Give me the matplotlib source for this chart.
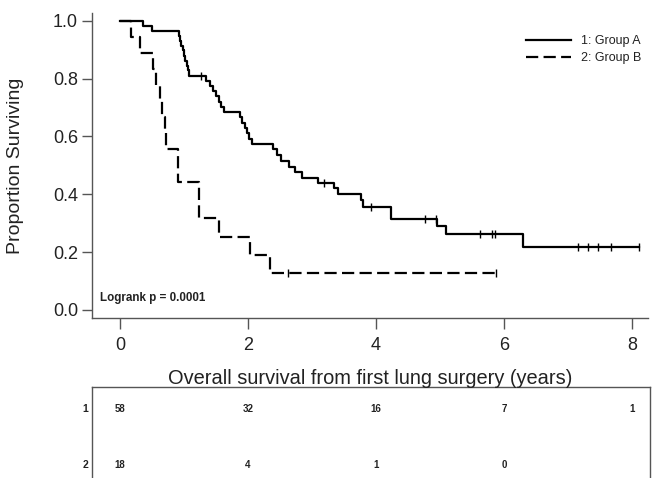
import numpy as np
import matplotlib.pyplot as plt
import matplotlib.transforms as mtransforms

plt.rcParams['font.family'] = ['Liberation Sans', 'DejaVu Sans']

# ---------------------------------------------------------------------------
# Kaplan-Meier curves (years, proportion surviving)
# ---------------------------------------------------------------------------
# Group A (solid)
a_event_t = [0.36, 0.50, 0.92, 0.94, 0.96, 0.98, 1.00, 1.02, 1.04, 1.06, 1.08,
             1.34, 1.40, 1.45, 1.50, 1.54, 1.58, 1.63, 1.87, 1.91, 1.95, 1.98,
             2.02, 2.06, 2.39, 2.45, 2.51, 2.64, 2.73, 2.84, 3.10, 3.34, 3.40,
             3.76, 3.80, 4.23, 4.96, 5.09, 6.29]
a_event_s = [0.983, 0.966, 0.948, 0.931, 0.914, 0.897, 0.879, 0.862, 0.845,
             0.828, 0.810, 0.792, 0.774, 0.756, 0.738, 0.720, 0.702, 0.684,
             0.666, 0.648, 0.629, 0.611, 0.592, 0.574, 0.555, 0.535, 0.514,
             0.494, 0.476, 0.457, 0.439, 0.420, 0.400, 0.379, 0.357, 0.316,
             0.289, 0.262, 0.218]
a_censor_t = [1.27, 3.19, 3.92, 4.77, 4.94, 5.63, 5.82, 5.86,
              7.16, 7.32, 7.47, 7.67, 8.11]
a_end = 8.11

# Group B (dashed)
b_event_t = [0.17, 0.31, 0.51, 0.56, 0.62, 0.65, 0.70, 0.72, 0.91,
             1.23, 1.54, 2.03, 2.34]
b_event_s = [0.944, 0.889, 0.833, 0.778, 0.722, 0.667, 0.611, 0.556, 0.444,
             0.318, 0.254, 0.190, 0.127]
b_censor_t = [2.63, 5.88]
b_end = 5.88

# numbers at risk
risk_t = [0, 2, 4, 6, 8]
risk_a = [58, 32, 16, 7, 1]
risk_b = [18, 4, 1, 0]

x_ticks = [0, 2, 4, 6, 8]
y_ticks = [0.0, 0.2, 0.4, 0.6, 0.8, 1.0]


def km_path(ev_t, ev_s, end):
    t = [0.0] + list(ev_t) + [end]
    s = [1.0] + list(ev_s) + [ev_s[-1]]
    return t, s


def surv_at(ev_t, ev_s, t):
    idx = np.searchsorted(ev_t, t, side='right')
    return [1.0 if i == 0 else ev_s[i - 1] for i in idx]


fig = plt.figure(figsize=(6.52, 4.78), dpi=100)
ax = fig.add_axes([92 / 652, 1 - 318 / 478, 556 / 652, 305 / 478])

axis_col = '#555555'
text_col = '#222222'

ta, sa = km_path(a_event_t, a_event_s, a_end)
tb, sb = km_path(b_event_t, b_event_s, b_end)

ax.step(ta, sa, where='post', color='black', lw=1.6, label='1: Group A')
ax.step(tb, sb, where='post', color='black', lw=1.6, dashes=(5.5, 2.4),
        label='2: Group B')
ax.plot(a_censor_t, surv_at(a_event_t, a_event_s, a_censor_t), ls='none',
        marker='|', ms=6, mew=1.0, color='black')
ax.plot(b_censor_t, surv_at(b_event_t, b_event_s, b_censor_t), ls='none',
        marker='|', ms=6, mew=1.0, color='black')

ax.set_xlim(-0.4375, 8.25)
ax.set_ylim(-0.0277, 1.0266)
ax.set_xticks(x_ticks)
ax.set_xticklabels([str(v) for v in x_ticks])
ax.set_yticks(y_ticks)
ax.set_yticklabels([f'{v:.1f}' for v in y_ticks])

for side in ['top', 'right']:
    ax.spines[side].set_visible(False)
for side in ['left', 'bottom']:
    ax.spines[side].set_color(axis_col)
    ax.spines[side].set_linewidth(1.0)

ax.tick_params(axis='both', direction='out', length=7, width=1,
               color=axis_col, labelcolor=text_col, labelsize=13)
ax.tick_params(axis='x', pad=6, length=8)
ax.tick_params(axis='y', pad=3)

ax.set_ylabel('Proportion Surviving', fontsize=14, color=text_col)
ax.yaxis.set_label_coords(-0.122, 0.5)

ax.text(0.0144, 0.066, 'Logrank p = 0.0001', transform=ax.transAxes,
        fontsize=8.4, fontweight='bold', va='center', ha='left', color=text_col)

ax.legend(loc='upper right', bbox_to_anchor=(641 / 652, 1 - 35 / 478),
          bbox_transform=fig.transFigure, frameon=False, fontsize=9,
          borderpad=0, borderaxespad=0,
          handlelength=3.6, handletextpad=0.8, labelspacing=0.4,
          labelcolor=text_col)

fig.text(370 / 652, 1 - 379 / 478,
         'Overall survival from first lung surgery (years)',
         ha='center', va='center', fontsize=14.4, color=text_col)

# number-at-risk table
ax2 = fig.add_axes([92 / 652, -0.1, 558 / 652, 1 - 387 / 478 + 0.1])
ax2.set_xlim(-0.4375, 8.28)
ax2.set_ylim(0, 1)
ax2.set_xticks([])
ax2.set_yticks([])
ax2.spines['bottom'].set_visible(False)
for side in ['top', 'left', 'right']:
    ax2.spines[side].set_color(axis_col)
    ax2.spines[side].set_linewidth(1.0)

trans = mtransforms.blended_transform_factory(ax2.transData, fig.transFigure)
row_y = [1 - 409 / 478, 1 - 465 / 478]
for t, n in zip(risk_t, risk_a):
    ax2.text(t, row_y[0], str(n), transform=trans, ha='center', va='center',
             fontsize=7, fontweight='bold', color=text_col)
for t, n in zip(risk_t, risk_b):
    ax2.text(t, row_y[1], str(n), transform=trans, ha='center', va='center',
             fontsize=7, fontweight='bold', color=text_col)
for lab, y in zip(['1', '2'], row_y):
    fig.text(88 / 652, y, lab, ha='right', va='center', fontsize=7.5,
             fontweight='bold', color=text_col)

fig.savefig('out.png', dpi=100)
